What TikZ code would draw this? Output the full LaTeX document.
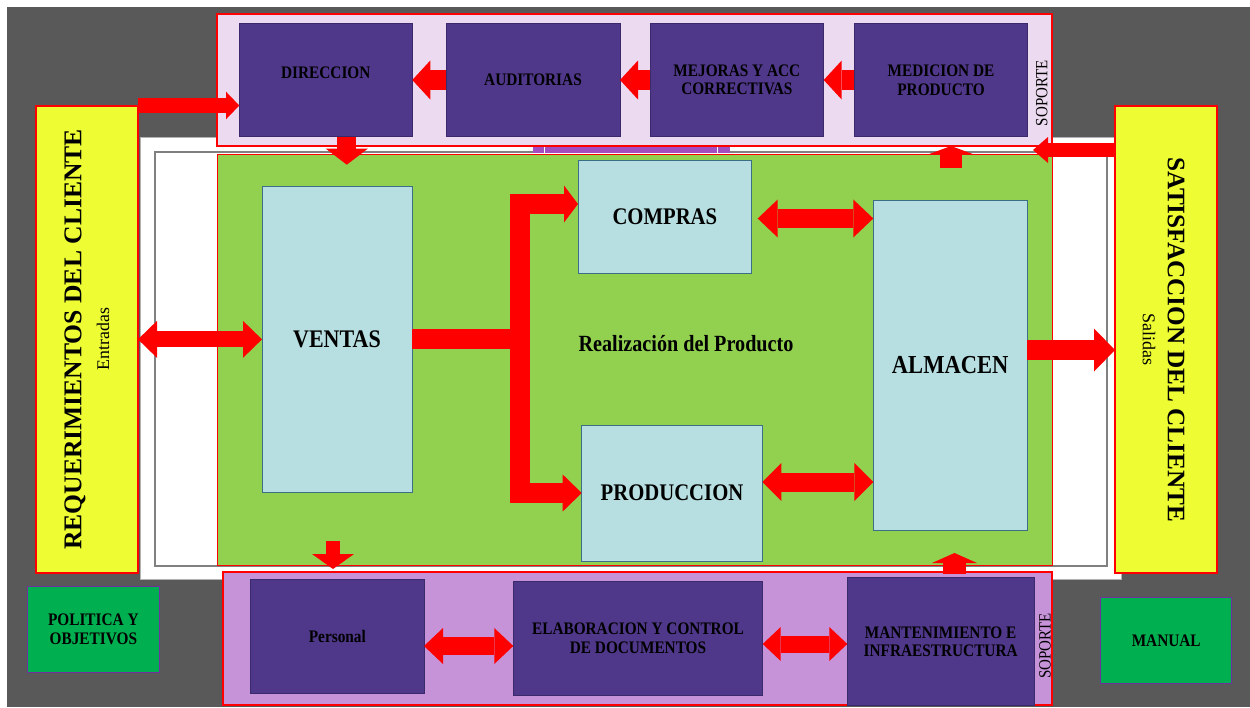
\documentclass[tikz,border=0pt]{standalone}
\usepackage{fontspec}
\setmainfont{Liberation Serif}
\newfontfamily\condserif[FakeStretch=0.87]{Liberation Serif}
\usetikzlibrary{arrows.meta,calc}
\definecolor{bgdark}{HTML}{595959}
\definecolor{lav}{HTML}{ECDAF0}
\definecolor{lilac}{HTML}{C693D9}
\definecolor{deeppurple}{HTML}{4F3789}
\definecolor{deepborder}{HTML}{3B2A6B}
\definecolor{grass}{HTML}{92D050}
\definecolor{paleblue}{HTML}{B7DFE1}
\definecolor{tealborder}{HTML}{3A6F86}
\definecolor{lemon}{HTML}{EDFC33}
\definecolor{emerald}{HTML}{00B050}
\definecolor{emborder}{HTML}{7030A0}
\definecolor{stripcol}{HTML}{A24EC0}
\definecolor{arrowred}{HTML}{FF0000}
\tikzset{
  cont/.style={rectangle, inner sep=0pt, outer sep=0pt, anchor=north west},
  purp/.style={cont, draw=deepborder, line width=0.9pt, fill=deeppurple, align=center,
    font=\condserif\fontsize{17.6}{18.6}\selectfont\bfseries},
  pale/.style={cont, draw=tealborder, line width=0.9pt, fill=paleblue, align=center,
    font=\condserif\fontsize{23.8}{26}\selectfont\bfseries},
  gbox/.style={cont, draw=emborder, line width=0.8pt, fill=emerald, align=center,
    font=\condserif\fontsize{17.6}{18.6}\selectfont\bfseries},
  fat/.style n args={3}{draw=arrowred, line width=#1, line cap=butt, line join=miter,
    -{Triangle[length=#3,width=#2,line width'=0pt]}},
  dfat/.style n args={3}{draw=arrowred, line width=#1, line cap=butt, line join=miter,
    {Triangle[length=#3,width=#2,line width'=0pt]}-{Triangle[length=#3,width=#2,line width'=0pt]}},
  vtxt/.style={inner sep=0pt, font=\condserif\fontsize{17.2}{18}\selectfont},
}
\begin{document}
\begin{tikzpicture}[x=1pt,y=-1pt]
\useasboundingbox (0,0) rectangle (1250,707);
\fill[white] (0,0) rectangle (1250,707);
\fill[bgdark] (7,7) rectangle (1250,707);

% big white frame
\node[cont, draw=black!30, line width=1pt, fill=white, minimum width=981pt, minimum height=442pt] (frame) at (140,137) {};
\node[cont, draw=black!50, line width=1.2pt, fill=white, minimum width=952pt, minimum height=414pt] (inner) at (155,152) {};
% green area
\node[cont, draw=arrowred, line width=1pt, fill=grass, minimum width=835pt, minimum height=411pt] (grn) at (217,154) {};
% top support
\node[cont, draw=arrowred, line width=1.2pt, fill=lav, minimum width=835pt, minimum height=132pt] (top) at (217,14) {};
% bottom support
\node[cont, draw=arrowred, line width=1.2pt, fill=lilac, minimum width=829pt, minimum height=133pt] (bot) at (223,572) {};
% strip
\fill[stripcol] (533,146.6) rectangle (730,153.4);
\draw[white, line width=1pt] (544,146.6) -- (544,153.4) (717,146.6) -- (717,153.4);

% yellow columns
\node[cont, draw=arrowred, line width=1.2pt, fill=lemon, minimum width=102pt, minimum height=467pt] (req) at (36,106) {};
\node[cont, draw=arrowred, line width=1.2pt, fill=lemon, minimum width=102pt, minimum height=467pt] (sat) at (1115,106) {};
\node[inner sep=0pt, rotate=90, font=\fontsize{25.6}{30}\selectfont\bfseries] (reqt) at (75,339.5) {REQUERIMIENTOS DEL CLIENTE};
\node[inner sep=0pt, rotate=90, font=\fontsize{17.8}{20}\selectfont] (reqs) at (103,339) {Entradas};
\node[inner sep=0pt, rotate=-90, font=\fontsize{25.2}{30}\selectfont\bfseries] (satt) at (1176,340) {SATISFACCION DEL CLIENTE};
\node[inner sep=0pt, rotate=-90, font=\fontsize{18}{20}\selectfont] (sats) at (1149,339) {Salidas};

% top row
\node[purp, minimum width=173pt, minimum height=113.4pt] (dir) at (239.3,23.3) {};
\node[font=\condserif\fontsize{17.6}{18.6}\selectfont\bfseries, inner sep=0pt] (dirt) at ($(dir.center)+(0,-7)$) {DIRECCION};
\node[purp, minimum width=174pt, minimum height=113.4pt] (aud) at (446,23.3) {AUDITORIAS};
\node[purp, minimum width=173.7pt, minimum height=113.4pt] (mej) at (650,23.3) {MEJORAS Y ACC\\CORRECTIVAS};
\node[purp, minimum width=173.4pt, minimum height=113.4pt] (med) at (854.3,23.3) {MEDICION DE\\PRODUCTO};
\node[vtxt, rotate=90] (sop1) at (1041.7,93.3) {SOPORTE};

% bottom row
\node[purp, minimum width=173.3pt, minimum height=114pt] (pers) at (250.7,579.3) {Personal};
\node[purp, minimum width=249.4pt, minimum height=113.3pt] (elab) at (513.3,581.7) {ELABORACION Y CONTROL\\DE DOCUMENTOS};
\node[purp, minimum width=186.7pt, minimum height=128pt] (mant) at (847.3,577.7) {MANTENIMIENTO E\\INFRAESTRUCTURA};
\node[vtxt, rotate=90] (sop2) at (1045,645.8) {SOPORTE};

% corner boxes
\node[gbox, minimum width=131.3pt, minimum height=85.6pt] (pol) at (27.7,586.7) {POLITICA Y\\OBJETIVOS};
\node[gbox, minimum width=131pt, minimum height=85.6pt] (man) at (1100.7,597.7) {MANUAL};

% process boxes
\node[pale, minimum width=150pt, minimum height=306.7pt, font=\condserif\fontsize{25.3}{28}\selectfont\bfseries] (ventas) at (262,186) {VENTAS};
\node[pale, minimum width=173.7pt, minimum height=112.6pt] (compras) at (578,160.7) {COMPRAS};
\node[pale, minimum width=180.6pt, minimum height=136pt] (prod) at (581.7,425) {PRODUCCION};
\node[pale, minimum width=153.7pt, minimum height=330pt, font=\condserif\fontsize{25.9}{28}\selectfont\bfseries] (alm) at (873.3,200) {ALMACEN};
\node[font=\condserif\fontsize{23.2}{26}\selectfont\bfseries, inner sep=0pt] (real) at (686,344) {Realización del Producto};

% ---- arrows ----
% top row, right to left
\draw[fat={14.4pt}{27.6pt}{13.3pt}] (req.east |- 0,105.5) -- (dir.west |- 0,105.5);
\draw[fat={20pt}{39pt}{18pt}] (aud.west) -- (dir.east);
\draw[fat={20pt}{39pt}{18pt}] (mej.west) -- (aud.east);
\draw[fat={20pt}{39pt}{18pt}] (med.west) -- (mej.east);
% direccion down into realization
\coordinate (dirtip) at ($(dir.south)+(21,28)$);
\draw[fat={19pt}{42pt}{16pt}] (dir.south -| dirtip) -- (dirtip);
% satisfaction feedback to top
\coordinate (sattip) at (1033,150);
\draw[fat={14pt}{26pt}{15pt}] (sat.west |- sattip) -- (sattip);
% up from realization to support
\coordinate (upa) at (951,168);
\draw[fat={22pt}{46pt}{8.5pt}] (upa) -- (upa |- top.south);
% fork from ventas
\coordinate (forkx) at (519.5,340);
\draw[fat={20pt}{37pt}{14pt}] (ventas.east) -- (ventas.east -| forkx) |- ($(compras.west)+(0,-13)$);
\draw[fat={20pt}{37pt}{19pt}] (ventas.east) -- (ventas.east -| forkx) |- (prod.west);
% double arrows to almacen
\coordinate (ca) at ($(compras.east)+(6,1.5)$);
\draw[dfat={19pt}{38pt}{20pt}] (ca) -- (ca -| alm.west);
\coordinate (pa) at (prod.east |- 0,482);
\draw[dfat={19pt}{38pt}{19pt}] (pa) -- (pa -| alm.west);
% requirement <-> ventas
\draw[dfat={16pt}{37pt}{19pt}] (req.east |- ventas.west) -- (ventas.west);
% almacen -> satisfaction
\coordinate (as) at (alm.east |- 0,350);
\draw[fat={20pt}{43pt}{21pt}] (as) -- (as -| sat.west);
% down to bottom support
\coordinate (dna) at (333,541);
\coordinate (dnb) at (333,569);
\draw[fat={14pt}{42pt}{15pt}] (dna) -- (dnb);
% up from bottom support into realization
\coordinate (upb) at (954.5,574);
\coordinate (upc) at (954.5,553);
\draw[fat={23pt}{45pt}{10pt}] (upb) -- (upc);
% bottom row double arrows
\coordinate (pe) at (pers.east |- 0,646);
\draw[dfat={18pt}{36pt}{19pt}] (pe) -- (pe -| elab.west);
\coordinate (em) at (elab.east |- 0,644);
\draw[dfat={17pt}{34pt}{18pt}] (em) -- (em -| mant.west);
\end{tikzpicture}
\end{document}
